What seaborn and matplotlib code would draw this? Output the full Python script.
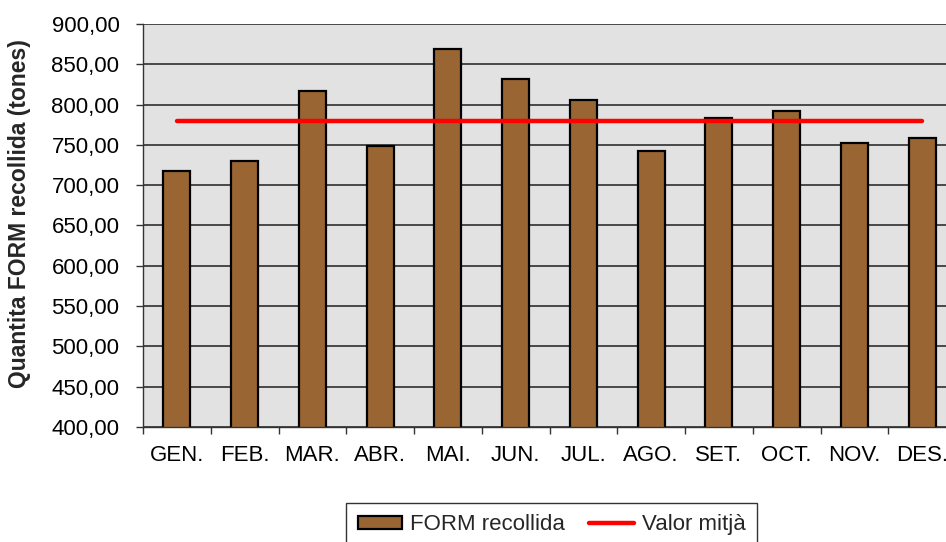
import numpy as np
import pandas as pd
import matplotlib
matplotlib.use("Agg")
import matplotlib.pyplot as plt
from matplotlib.ticker import FuncFormatter
import seaborn as sns

# Data
months = ["GEN.", "FEB.", "MAR.", "ABR.", "MAI.", "JUN.",
          "JUL.", "AGO.", "SET.", "OCT.", "NOV.", "DES."]
form_collected = [717.5, 730.0, 816.5, 749.0, 869.0, 832.0,
                  806.0, 743.0, 784.0, 792.5, 752.5, 759.0]
mean_value = np.mean(form_collected)
y_ticks = [400, 450, 500, 550, 600, 650, 700, 750, 800, 850, 900]

sns.set_theme(style="white")
plt.rcParams["font.family"] = ["Liberation Sans", "DejaVu Sans"]

df = pd.DataFrame({"month": months, "tones": form_collected})

fig = plt.figure(figsize=(9.46, 5.42), dpi=100)
ax = fig.add_axes([0.1512, 0.2122, 0.8594, 0.7435])
ax.set_facecolor("#e2e2e2")

sns.barplot(data=df, x="month", y="tones", ax=ax, color="#996633",
            saturation=1, width=0.4, edgecolor="black", linewidth=1.6,
            label="FORM recollida")
sns.lineplot(x=months, y=[mean_value] * len(months), ax=ax, color="#ff0000",
             linewidth=3.2, sort=False, label="Valor mitjà")

ax.set_ylim(400, 900)
ax.set_xlim(-0.5, 11.5)
ax.set_yticks(y_ticks)
ax.yaxis.set_major_formatter(FuncFormatter(lambda v, p: f"{v:.2f}".replace(".", ",")))
ax.set_axisbelow(True)
ax.grid(axis="y", color="#3c3c3c", linewidth=1.3)
ax.grid(axis="x", visible=False)

ax.set_xticks(np.arange(-0.5, len(months)), minor=True)
ax.tick_params(axis="x", which="major", length=0, pad=13, labelsize=16, colors="black")
ax.tick_params(axis="x", which="minor", length=5, width=1, color="#333333", direction="out", bottom=True)
ax.tick_params(axis="y", length=5, width=1, color="#333333", direction="out", left=True,
               pad=12, labelsize=16, labelcolor="black")

ax.set_xlabel("")
ax.set_ylabel("Quantita FORM recollida (tones)", fontsize=16.5, fontweight="bold")
ax.yaxis.set_label_coords(-0.138, 0.53)

for side in ["top", "right"]:
    ax.spines[side].set_visible(False)
for side in ["left", "bottom"]:
    ax.spines[side].set_color("#333333")
    ax.spines[side].set_linewidth(1.0)

ax.get_legend().remove()
handles, labels = ax.get_legend_handles_labels()
order = [labels.index("FORM recollida"), labels.index("Valor mitjà")]
leg = fig.legend([handles[i] for i in order], [labels[i] for i in order],
                 loc="upper center", bbox_to_anchor=(0.583, 0.072), borderaxespad=0,
                 ncol=2, fontsize=16, frameon=True, fancybox=False, edgecolor="black",
                 handlelength=2.0, handleheight=0.5, handletextpad=0.36,
                 columnspacing=1.1, borderpad=0.5)
leg.get_frame().set_linewidth(1.0)

fig.savefig("out.png", dpi=100)
